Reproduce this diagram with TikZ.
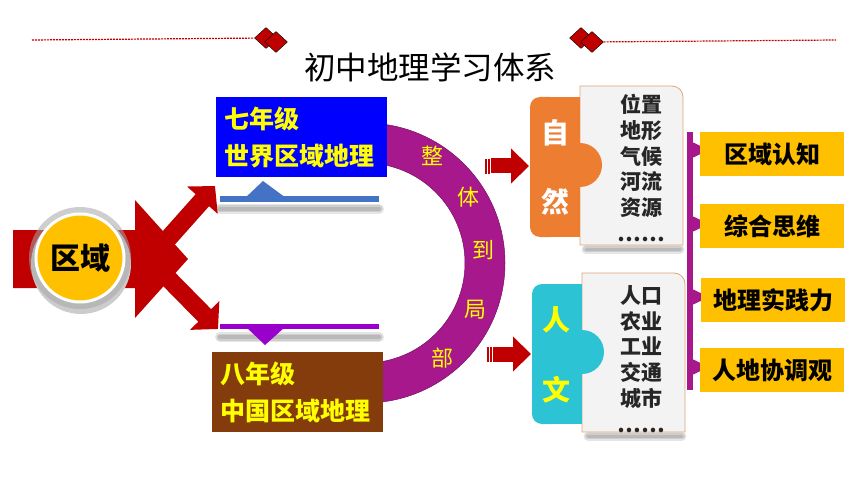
\documentclass[tikz,border=0pt]{standalone}
\usepackage{fontspec}
\setmainfont{Noto Sans CJK SC}
\usepackage{xcolor}
\definecolor{darkred}{RGB}{192,0,0}
\definecolor{gradeblue}{RGB}{0,0,255}
\definecolor{gradebrown}{RGB}{132,60,12}
\definecolor{gradeyellow}{RGB}{255,255,0}
\definecolor{ringpurple}{RGB}{166,24,140}
\definecolor{lineblue}{RGB}{68,114,196}
\definecolor{linepurple}{RGB}{153,0,204}
\definecolor{gold}{RGB}{255,192,0}
\definecolor{natorange}{RGB}{237,125,49}
\definecolor{humcyan}{RGB}{44,196,212}
\definecolor{cardgray}{RGB}{243,243,243}
\definecolor{cardedge}{RGB}{224,165,120}
\usepackage{tikz}
\usetikzlibrary{arrows.meta,positioning,shapes.geometric,calc}
\tikzset{
  gem/.style={diamond,draw=black,line width=0.4pt,fill=darkred,inner sep=0pt,minimum width=23pt,minimum height=21pt},
  redline/.style={darkred,line width=1.2pt,dash pattern=on 2pt off 1pt},
  title/.style={font=\fontsize{31.5}{34}\selectfont},
  grade/.style={rectangle,minimum width=171pt,minimum height=80pt,text width=155pt,align=left,text=gradeyellow,font=\bfseries\fontsize{25}{37}\selectfont},
  fatarrow/.style={darkred,line width=18pt,-{Triangle[length=19pt,width=40pt]}},
  smallarrow/.style={darkred,line width=15pt,-{Triangle[length=18pt,width=34pt]}},
  region/.style={circle,fill=gold,draw=white,line width=3pt,minimum size=88pt,font=\bfseries\fontsize{30}{30}\selectfont},
  ringtext/.style={text=gradeyellow,font=\fontsize{22}{22}\selectfont},
  piecetext/.style={font=\bfseries\fontsize{28}{28}\selectfont},
  card/.style={fill=cardgray,draw=cardedge,line width=0.8pt},
  cardtext/.style={align=center,text=black!85,font=\bfseries\fontsize{21}{25.8}\selectfont},
  goal/.style={rectangle,fill=gold,minimum width=144pt,minimum height=44pt,font=\bfseries\fontsize{24}{24}\selectfont},
  softshadow/.style={black,opacity=0.1,line cap=round}
}

\begin{document}
\begin{tikzpicture}[x=1pt,y=-1pt]
  \useasboundingbox (0,0) rectangle (860,484);

  % Title line
  \node[gem] (gemL1) at (266,38) {};
  \node[gem] (gemL2) at (276,42) {};
  \node[gem] (gemR1) at (581,38) {};
  \node[gem] (gemR2) at (592,42) {};
  \coordinate (lineL) at (32,40);
  \coordinate (lineR) at (836,40);
  \draw[redline] (lineL) -- (gemL1);
  \draw[redline] (gemR2) -- (lineR);
  \node[title] (title) at (430,67) {初中地理学习体系};

  % Ring behind the grades
  \begin{scope}
    \clip (365,100) rectangle (530,430);
    \fill[ringpurple,even odd rule,draw=ringpurple!70!black,line width=0.5pt]
      (365,263) circle (140pt) (365,263) circle (100pt);
  \end{scope}
  \node[ringtext] (w1) at (432,156) {整};
  \node[ringtext] (w2) at (468,197) {体};
  \node[ringtext] (w3) at (483,250) {到};
  \node[ringtext] (w4) at (475,310) {局};
  \node[ringtext] (w5) at (442,358) {部};

  % Grades
  \node[grade,fill=gradeblue] (seven) at (301.5,137) {七年级\\世界区域地理};
  \node[grade,fill=gradebrown] (eight) at (297.5,392) {八年级\\中国区域地理};

  % Lines under and over the grades
  \coordinate (blL) at (220,199);
  \coordinate (blR) at (379,199);
  \coordinate (plL) at (220,326);
  \coordinate (plR) at (379,326);
  \foreach \w in {4,7,10} {
    \draw[softshadow,line width=\w pt] ([yshift=-10pt]blL) -- ([yshift=-10pt]blR);
    \draw[softshadow,line width=\w pt] ([yshift=-11pt]plL) -- ([yshift=-11pt]plR);
  }
  \draw[lineblue,line width=6pt] (blL) -- (blR);
  \fill[lineblue] (245,198) -- (263,181) -- (286,198) -- cycle;
  \draw[linepurple,line width=5pt] (plL) -- (plR);
  \fill[linepurple] (246,327) -- (265,345) -- (285,327) -- cycle;

  % Region arrows
  \coordinate (upS) at (158,250);
  \coordinate (upE) at (215,186);
  \coordinate (dnS) at (158,268);
  \coordinate (dnE) at (218,329);
  \draw[fatarrow] (upS) -- (upE);
  \draw[fatarrow] (dnS) -- (dnE);
  \fill[darkred] (13,230) -- (135,230) -- (135,200) -- (188,259) -- (135,318) -- (135,288) -- (13,288) -- cycle;
  \coordinate (rc) at (80,258);
  \fill[black!20] ($(rc)+(1,6)$) circle (50pt);
  \fill[gray!70,opacity=0.55] (rc) circle (51pt);
  \node[region] (region) at (rc) {区域};

  % Small arrows
  \coordinate (natS) at (491,166);
  \coordinate (natE) at (529,166);
  \coordinate (humS) at (493,354);
  \coordinate (humE) at (531,354);
  \draw[smallarrow] (natS) -- (natE);
  \draw[smallarrow] (humS) -- (humE);
  \foreach \x in {485,488} {
    \fill[darkred] (\x,159) rectangle (\x+1.5,174);
    \fill[darkred] (\x+2,347) rectangle (\x+3.5,362);
  }

  % Cards
  \foreach \w in {3,6,9} {
    \draw[softshadow,line width=\w pt] (586,249) -- (680,249);
    \draw[softshadow,line width=\w pt] (588,436) -- (682,436);
  }
  \draw[card] (580,86) -- (672,86) to[out=0,in=90] (683,97) -- (683,245) -- (580,245) -- cycle;
  \fill[natorange,rounded corners=10pt] (530,97) rectangle (560,237);
  \fill[natorange] (545,97) rectangle (580,237);
  \fill[natorange] (580,165) circle (22pt);
  \node[piecetext,text=white] (zi) at (555,133) {自};
  \node[piecetext,text=white] (ran) at (555,202) {然};
  \node[cardtext] (natText) at (641,168) {位置\\地形\\气候\\河流\\资源\\……};

  \draw[card] (582,273) -- (674,273) to[out=0,in=90] (685,284) -- (685,432) -- (582,432) -- cycle;
  \fill[humcyan,rounded corners=10pt] (532,284) rectangle (562,424);
  \fill[humcyan] (547,284) rectangle (582,424);
  \fill[humcyan] (582,352) circle (22pt);
  \node[piecetext,text=gradeyellow] (ren) at (556,320) {人};
  \node[piecetext,text=gradeyellow] (wen) at (556,390) {文};
  \node[cardtext] (humText) at (641,359) {人口\\农业\\工业\\交通\\城市\\……};

  % Core literacies
  \coordinate (barT) at (690,132);
  \coordinate (barB) at (690,390);
  \draw[ringpurple,line width=6pt] (barT) -- (barB);
  \foreach \y in {150,224,297,367}
    \fill[ringpurple] (690,\y-9) -- (709,\y) -- (690,\y+9) -- cycle;
  \node[goal] (g1) at (772,154) {区域认知};
  \node[goal] (g2) at (772,226) {综合思维};
  \node[goal] (g3) at (773,300) {地理实践力};
  \node[goal] (g4) at (772,370) {人地协调观};
\end{tikzpicture}
\end{document}
